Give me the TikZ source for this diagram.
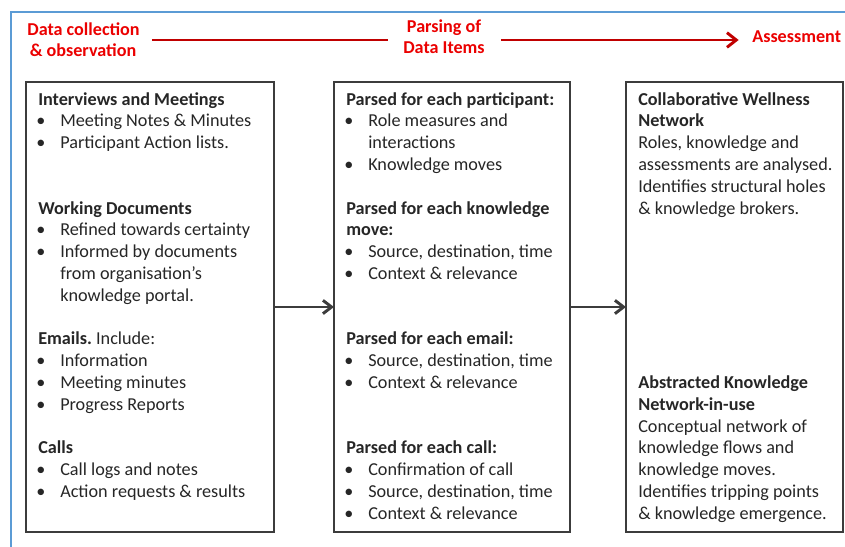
\documentclass[tikz,border=0pt]{standalone}
\usepackage{fontspec}
\setmainfont{Carlito}
\usetikzlibrary{arrows.meta}
\definecolor{frameblue}{RGB}{91,155,213}
\definecolor{linered}{RGB}{192,0,0}
\definecolor{txtred}{RGB}{235,0,0}
\definecolor{boxgray}{RGB}{60,60,60}
\definecolor{txtgray}{RGB}{38,38,38}
\newcommand\blt{\makebox[18pt][l]{\textbullet}}
\tikzset{
  boxnode/.style={draw=boxgray, line width=1.1pt, anchor=north west, inner sep=0pt, outer sep=0pt},
  ln/.style={anchor=base west, inner sep=0pt, font=\fontsize{13.65}{16}\selectfont, text=txtgray},
  redtxt/.style={anchor=base, inner sep=0pt, font=\fontsize{13.6}{16}\selectfont\bfseries, text=txtred},
  redline/.style={draw=linered, line width=2.2pt},
  blackarrow/.style={draw=boxgray, line width=2.2pt, -{Straight Barb[length=6.5pt,width=10pt]}},
}
\begin{document}
\begin{tikzpicture}[x=0.75pt,y=-0.75pt]
\useasboundingbox (0,0) rectangle (845,546);
\clip (0,0) rectangle (845,546);
% outer frame
\draw[frameblue, line width=1.4pt] (11,12) rectangle (880,580);
% red header
\node[redtxt] (dc1) at (83.5,35) {Data collection};
\node[redtxt] (dc2) at (83,56) {\& observation};
\node[redtxt] (pd1) at (444,32.5) {Parsing of};
\node[redtxt] (pd2) at (444,53) {Data Items};
\node[redtxt, anchor=base west] (as) at (752,42) {Assessment};
\coordinate (ly) at (0,40);
\draw[redline] (dc1.east |- ly) ++(12,0) -- ([xshift=-11pt]pd2.west |- ly);
\draw[redline, -{Straight Barb[length=7pt,width=11pt]}] ([xshift=12pt]pd2.east |- ly) -- ([xshift=-10pt]as.west |- ly);
% boxes
\node[boxnode, minimum width=186pt, minimum height=337.5pt] (b1) at (26,82) {};
\node[boxnode, minimum width=177pt, minimum height=337.5pt] (b2) at (334,82) {};
\node[boxnode, minimum width=162.75pt, minimum height=337.5pt] (b3) at (626,82) {};
\draw[blackarrow] (b1.east) -- (b2.west);
\draw[blackarrow] (b2.east) -- (b3.west);
% box 1 text
\foreach \xx/\k/\t [count=\i] in {
  38/0/{\bfseries Interviews and Meetings},
  36/1/{\blt Meeting Notes \& Minutes},
  36/2/{\blt Participant Action lists.},
  38/5/{\bfseries Working Documents},
  36/6/{\blt Refined towards certainty},
  36/7/{\blt Informed by documents},
  60/8/{from organisation’s},
  60/9/{knowledge portal.},
  38/11/{\textbf{Emails.}\ Include:},
  36/12/{\blt Information},
  36/13/{\blt Meeting minutes},
  36/14/{\blt Progress Reports},
  38/16/{\bfseries Calls},
  36/17/{\blt Call logs and notes},
  36/18/{\blt Action requests \& results}}
  \node[ln] (a\i) at (\xx,{105+21.8*\k}) {\t};
% box 2 text
\foreach \xx/\k/\t [count=\i] in {
  346/0/{\bfseries Parsed for each participant:},
  344/1/{\blt Role measures and},
  368/2/{interactions},
  344/3/{\blt Knowledge moves},
  346/5/{\bfseries Parsed for each knowledge},
  346/6/{\bfseries move:},
  344/7/{\blt Source, destination, time},
  344/8/{\blt Context \& relevance},
  346/11/{\bfseries Parsed for each email:},
  344/12/{\blt Source, destination, time},
  344/13/{\blt Context \& relevance},
  346/16/{\bfseries Parsed for each call:},
  344/17/{\blt Confirmation of call},
  344/18/{\blt Source, destination, time},
  344/19/{\blt Context \& relevance}}
  \node[ln] (p\i) at (\xx,{105+21.8*\k}) {\t};
% box 3 text
\foreach \k/\t [count=\i] in {
  0/{\bfseries Collaborative Wellness},
  1/{\bfseries Network},
  2/{Roles, knowledge and},
  3/{assessments are analysed.},
  4/{Identifies structural holes},
  5/{\& knowledge brokers.},
  13/{\bfseries Abstracted Knowledge},
  14/{\bfseries Network-in-use},
  15/{Conceptual network of},
  16/{knowledge flows and},
  17/{knowledge moves.},
  18/{Identifies tripping points},
  19/{\& knowledge emergence.}}
  \node[ln] (c\i) at (638,{105+21.8*\k}) {\t};
\end{tikzpicture}
\end{document}
